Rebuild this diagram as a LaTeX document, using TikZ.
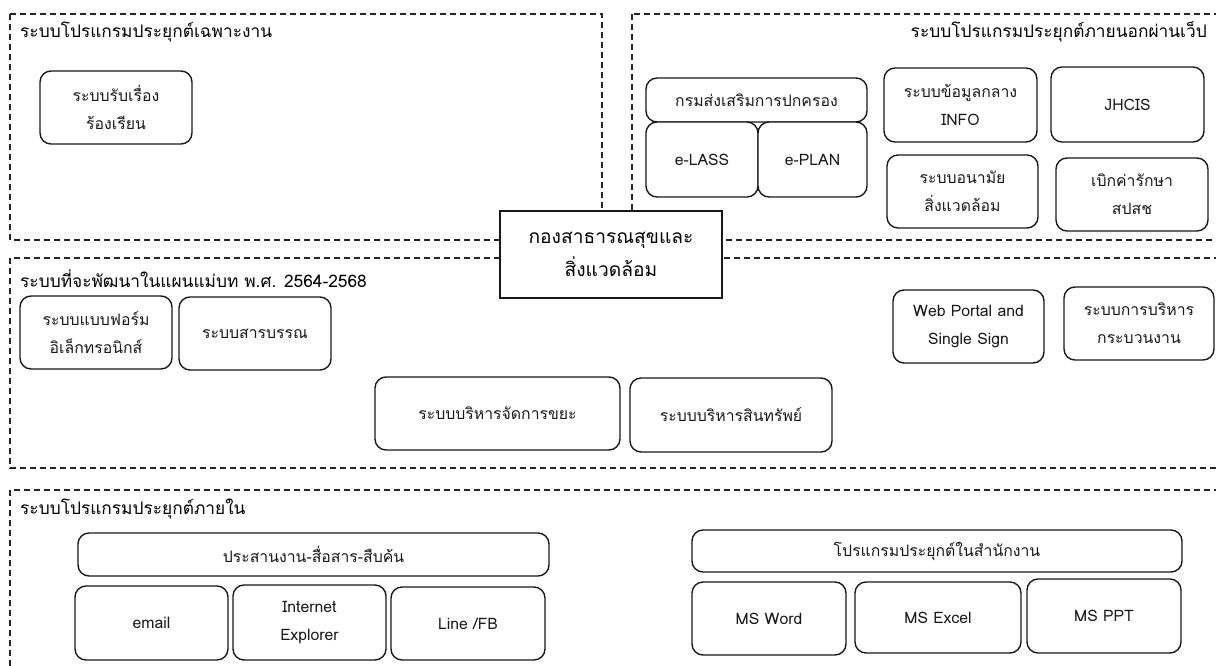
\documentclass[tikz,border=0pt]{standalone}
\usepackage{fontspec}
\setmainfont{Loma}[Script=Thai]
\newcommand\lblfont{\fontsize{15.8}{28}\selectfont}
\newcommand\ttlfont{\fontsize{17.3}{20}\selectfont}
\newcommand\ctrfont{\fontsize{19.2}{33}\selectfont}
% rounded application box given by its corners: name, x1, y1, x2, y2, text
\newcommand\appbox[6]{%
  \node[sysbox, minimum width={#4-#2}, minimum height={#5-#3}]
    (#1) at ({(#2+#4)/2},{(#3+#5)/2}) {#6};}
\begin{document}
\begin{tikzpicture}[x=1pt,y=-1pt]
\tikzset{
  sysbox/.style={draw=black!90, line width=1.4pt, rounded corners=11pt,
    fill=white, align=center, inner sep=2pt, font=\lblfont, text=black!90},
  grp/.style={draw=black!85, line width=1.1pt, dash pattern=on 6pt off 4pt},
  grptitle/.style={inner sep=0pt, font=\ttlfont, text=black},
  hub/.style={draw=black!90, line width=1.5pt, fill=white, align=center,
    inner sep=2pt, font=\ctrfont, text=black}
}
\useasboundingbox (0,0) rectangle (1216,666);
\clip (0,0) rectangle (1216,666);
\fill[white] (0,0) rectangle (1216,666);

% dashed group frames
\draw[grp] (10,14) rectangle (602,240);
\draw[grp] (632,14) rectangle (1230,240);
\draw[grp] (10,258) rectangle (1230,468);
\draw[grp] (10,490) rectangle (1230,690);

% group titles
\node[grptitle, anchor=west] (t1) at (20,32) {ระบบโปรแกรมประยุกต์เฉพาะงาน};
\node[grptitle, anchor=east] (t2) at (1207,32) {ระบบโปรแกรมประยุกต์ภายนอกผ่านเว็ป};
\node[grptitle, anchor=west] (t3) at (20,279) {ระบบที่จะพัฒนาในแผนแม่บท พ.ศ. 2564-2568};
\node[grptitle, anchor=west] (t4) at (20,509) {ระบบโปรแกรมประยุกต์ภายใน};

% central unit
\node[hub, minimum width=222, minimum height=87] (hub) at (611,254.5)
  {กองสาธารณสุขและ\\สิ่งแวดล้อม};

% special-purpose applications
\appbox{complaint}{40}{71}{192}{144}{ระบบรับเรื่อง\\ร้องเรียน}

% external web applications
\appbox{dla}{646}{78}{867}{122}{กรมส่งเสริมการปกครอง}
\appbox{elass}{646}{122}{758}{197}{e-LASS}
\appbox{eplan}{758}{122}{867}{197}{e-PLAN}
\appbox{info}{884}{68}{1037}{142}{ระบบข้อมูลกลาง\\INFO}
\appbox{jhcis}{1051}{67}{1204}{142}{JHCIS}
\appbox{envhealth}{887}{155}{1038}{228}{ระบบอนามัย\\สิ่งแวดล้อม}
\appbox{nhso}{1056}{158}{1208}{231}{เบิกค่ารักษา\\สปสช}

% planned systems
\appbox{eform}{20}{296}{172}{369}{ระบบแบบฟอร์ม\\อิเล็กทรอนิกส์}
\appbox{saraban}{179}{297}{331}{370}{ระบบสารบรรณ}
\appbox{waste}{375}{377}{620}{450}{ระบบบริหารจัดการขยะ}
\appbox{asset}{630}{378}{832}{452}{ระบบบริหารสินทรัพย์}
\appbox{portal}{893}{290}{1044}{363}{Web Portal and\\Single Sign}
\appbox{process}{1064}{287}{1214}{360}{ระบบการบริหาร\\กระบวนงาน}

% internal applications
\appbox{coord}{78}{533}{549}{576}{ประสานงาน-สื่อสาร-สืบค้น}
\appbox{email}{75}{586}{228}{660}{email}
\appbox{ie}{233}{585}{386}{660}{Internet\\Explorer}
\appbox{line}{391}{587}{545}{660}{Line /FB}
\appbox{office}{692}{530}{1182}{572}{โปรแกรมประยุกต์ในสำนักงาน}
\appbox{word}{692}{582}{846}{655}{MS Word}
\appbox{excel}{855}{582}{1021}{653}{MS Excel}
\appbox{ppt}{1027}{579}{1181}{653}{MS PPT}
\end{tikzpicture}
\end{document}
